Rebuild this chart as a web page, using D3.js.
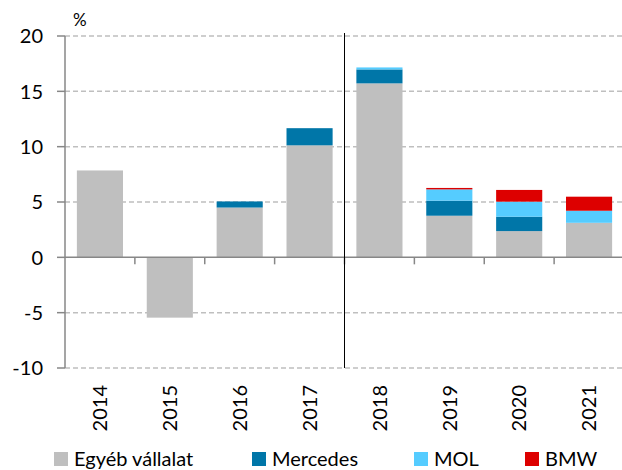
<!DOCTYPE html>
<html>
<head>
<meta charset="utf-8">
<script src="https://cdn.jsdelivr.net/npm/d3@7"></script>
<style>
  body { margin: 0; background: #fff; }
  svg { display: block; font-family: Lato, "Open Sans", sans-serif; }
</style>
</head>
<body>
<svg></svg>
<script>
// Méretek
var width = 622;
var height = 470;
var svg = d3.select("svg").attr("width", width).attr("height", height);

// Adatok
var years = ["2014", "2015", "2016", "2017", "2018", "2019", "2020", "2021"];
var egyeb = [7.85, -5.45, 4.5, 10.12, 15.72, 3.76, 2.37, 3.12];
var mercedes = [0, 0, 0.55, 1.55, 1.26, 1.36, 1.3, 0];
var mol = [0, 0, 0, 0, 0.18, 1.02, 1.36, 1.09];
var bmw = [0, 0, 0, 0, 0, 0.13, 1.06, 1.27];
var seriesNames = ["Egyéb vállalat", "Mercedes", "MOL", "BMW"];
var colors = ["#bfbfbf", "#0076a8", "#55ccff", "#dd0000"];
var yTicks = [-10, -5, 0, 5, 10, 15, 20];

var margin = { left: 65, right: -2, top: 36, bottom: 102 };

var x = d3.scaleBand()
    .domain(years)
    .range([margin.left, width - margin.right])
    .paddingInner(0.34)
    .paddingOuter(0.17);

var y = d3.scaleLinear()
    .domain([-10, 20])
    .range([height - margin.bottom, margin.top]);

// Rácsvonalak
svg.append("g").selectAll("line")
    .data(yTicks.filter(d => d !== 0))
    .enter().append("line")
    .attr("x1", margin.left)
    .attr("x2", width)
    .attr("y1", d => y(d))
    .attr("y2", d => y(d))
    .attr("stroke", "#bfbfbf")
    .attr("stroke-width", 1.5)
    .attr("stroke-dasharray", "5,3");

// Halmozott oszlopok
var series = [egyeb, mercedes, mol, bmw];
years.forEach((yr, i) => {
    var base = 0;
    series.forEach((s, k) => {
        var v = s[i];
        if (v === 0) return;
        var y0 = v < 0 ? 0 : base;
        var y1 = v < 0 ? v : base + v;
        svg.append("rect")
            .attr("x", x(yr))
            .attr("width", x.bandwidth())
            .attr("y", y(Math.max(y0, y1)))
            .attr("height", Math.abs(y(y0) - y(y1)))
            .attr("fill", colors[k]);
        if (v > 0) base += v;
    });
});

// Y tengely
var axisColor = "#878787";
svg.append("line")
    .attr("x1", margin.left).attr("x2", margin.left)
    .attr("y1", y(20)).attr("y2", y(-10))
    .attr("stroke", axisColor).attr("stroke-width", 1.5);

svg.append("g").selectAll("line")
    .data(yTicks)
    .enter().append("line")
    .attr("x1", margin.left - 8).attr("x2", margin.left)
    .attr("y1", d => y(d)).attr("y2", d => y(d))
    .attr("stroke", axisColor).attr("stroke-width", 1.5);

svg.append("g").selectAll("text")
    .data(yTicks)
    .enter().append("text")
    .attr("x", 43)
    .attr("y", d => y(d))
    .attr("dy", "0.36em")
    .attr("text-anchor", "end")
    .attr("font-size", "20px")
    .attr("fill", "#000")
    .text(d => d);

svg.append("text")
    .attr("x", 73)
    .attr("y", 26)
    .attr("font-size", "17px")
    .text("%");

// X tengely
svg.append("line")
    .attr("x1", margin.left).attr("x2", width)
    .attr("y1", y(0)).attr("y2", y(0))
    .attr("stroke", axisColor).attr("stroke-width", 1.5);

var step = x.step();
var bounds = d3.range(1, years.length).map(i => margin.left + i * step);
svg.append("g").selectAll("line")
    .data(bounds)
    .enter().append("line")
    .attr("x1", d => d).attr("x2", d => d)
    .attr("y1", y(0)).attr("y2", y(0) + 7)
    .attr("stroke", axisColor).attr("stroke-width", 1.5);

svg.append("g").selectAll("text")
    .data(years)
    .enter().append("text")
    .attr("transform", d => "translate(" + (x(d) + x.bandwidth() / 2) + "," + 385 + ") rotate(-90)")
    .attr("dy", "0.36em")
    .attr("text-anchor", "end")
    .attr("font-size", "20px")
    .text(d => d);

// Függőleges elválasztó vonal 2017 és 2018 között
svg.append("line")
    .attr("x1", bounds[3]).attr("x2", bounds[3])
    .attr("y1", 33).attr("y2", y(-10))
    .attr("stroke", "#000").attr("stroke-width", 1);

// Jelmagyarázat
var legendX = [54, 252, 414, 525];
seriesNames.forEach((name, k) => {
    svg.append("rect")
        .attr("x", legendX[k])
        .attr("y", 452)
        .attr("width", 14)
        .attr("height", 14)
        .attr("fill", colors[k]);
    svg.append("text")
        .attr("x", legendX[k] + 20)
        .attr("y", 459)
        .attr("dy", "0.36em")
        .attr("font-size", "20px")
        .text(name);
});
</script>
</body>
</html>
